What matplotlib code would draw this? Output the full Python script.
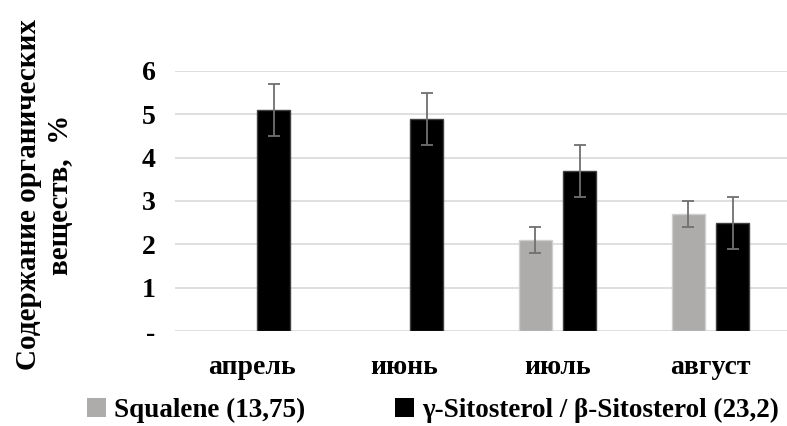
import matplotlib
matplotlib.use("Agg")
import matplotlib.pyplot as plt
import numpy as np

months = ["апрель", "июнь", "июль", "август"]
squalene = [np.nan, np.nan, 2.1, 2.7]
squalene_err = [np.nan, np.nan, 0.3, 0.3]
sitosterol = [5.1, 4.9, 3.7, 2.5]
sitosterol_err = [0.6, 0.6, 0.6, 0.6]
yticks = [0, 1, 2, 3, 4, 5, 6]
ytick_labels = ["-", "1", "2", "3", "4", "5", "6"]
series_names = ["Squalene (13,75)", "γ-Sitosterol / β-Sitosterol (23,2)"]
ylabel = "Содержание органических\nвеществ,  %"

serif = ["Liberation Serif", "DejaVu Serif"]
plt.rcParams["font.family"] = serif

fig = plt.figure(figsize=(7.87, 4.26), dpi=100)
ax = fig.add_axes([175/787, (426-331)/426, 1 - 175/787, (331-71)/426])

x = np.arange(len(months))
w = 0.216
off = 0.144
ekw = dict(ecolor="#707070", elinewidth=1.3, capsize=4, capthick=1.3)
ax.bar(x - off, squalene, w, yerr=squalene_err, color="#aeabab",
       edgecolor="#cfcdcd", linewidth=1, error_kw=ekw, label=series_names[0], zorder=3)
ax.bar(x + off, sitosterol, w, yerr=sitosterol_err, color="#000000",
       edgecolor="#404040", linewidth=1, error_kw=ekw, label=series_names[1], zorder=3)

ax.set_xlim(-0.5, 3.5)
ax.set_ylim(0, 6)
ax.set_yticks(yticks)
ax.set_yticklabels(ytick_labels, fontsize=20, fontweight="bold")
ax.set_xticks(x)
ax.set_xticklabels(months, fontsize=20, fontweight="bold")
ax.tick_params(axis="both", length=0)
ax.tick_params(axis="y", pad=14)
ax.tick_params(axis="x", pad=17)
ax.grid(axis="y", color="#d9d9d9", linewidth=1.2, zorder=0)
ax.set_axisbelow(True)
for s in ax.spines.values():
    s.set_visible(False)

fig.text(0.057, (426-195)/426, ylabel, rotation=90, ha="center", va="center",
         multialignment="center", fontsize=21, fontweight="bold", linespacing=1.25)

leg = fig.legend(loc="center", bbox_to_anchor=(0.55, (426-410)/426), ncol=2,
                 frameon=False, prop=dict(family=serif, size=19.5, weight="bold"),
                 handlelength=0.7, handleheight=0.7, handletextpad=0.3,
                 columnspacing=3.3)
for h in leg.legend_handles:
    h.set_linewidth(0)

fig.savefig("out.png", dpi=100)
